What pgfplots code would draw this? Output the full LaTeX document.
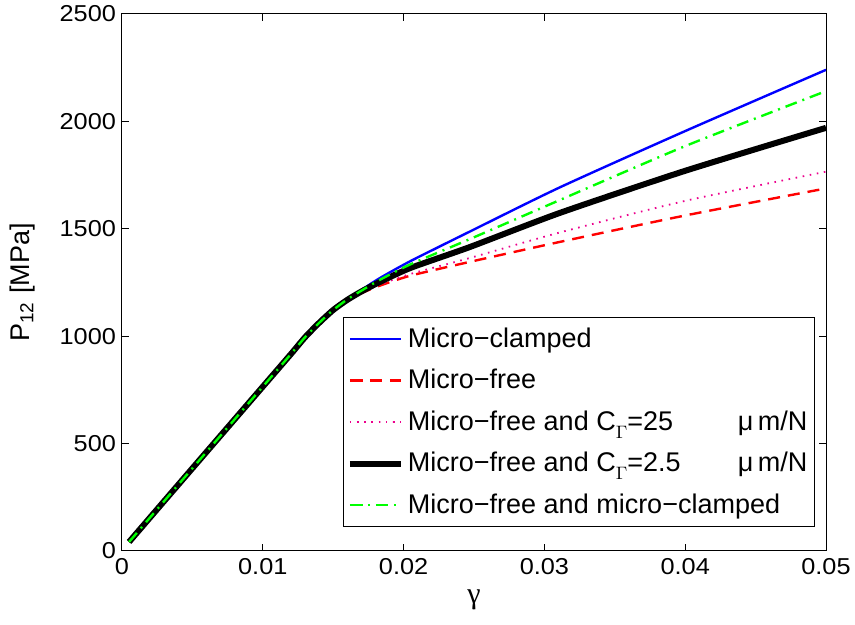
\documentclass[border=0pt]{standalone}
\usepackage{pgfplots}
\pgfplotsset{compat=1.18}
\usepackage{fontspec}
\setmainfont{Liberation Sans}
\newfontfamily\tickfont{Liberation Sans}[FakeStretch=1.1]
\newfontfamily\symfont{Liberation Serif}
\newcommand{\CG}{C\lower4pt\hbox{$\scriptstyle\Gamma$}}
\begin{document}
\begin{tikzpicture}
\begin{axis}[
  scale only axis, width=352pt, height=268.5pt,
  at={(0,0)}, anchor=south west,
  xmin=0, xmax=0.05, ymin=0, ymax=2500,
  xtick={0,0.01,0.02,0.03,0.04,0.05},
  xticklabels={0,0.01,0.02,0.03,0.04,0.05},
  scaled x ticks=false,
  ytick={0,500,1000,1500,2000,2500},
  /pgf/number format/1000 sep={},
  tick align=inside, major tick length=3.5pt,
  /pgf/number format/assume math mode=true,
  ticklabel style={font=\tickfont\fontsize{11.5}{13}\selectfont},
  yticklabel style={xshift=0.5pt},
  axis line style={line width=0.5pt},
  every tick/.style={black, line width=0.5pt},
  xlabel={\symfont γ},
  xlabel style={at={(axis description cs:0.5,-0.091)}, anchor=center, font=\fontsize{15}{17}\selectfont},
  ylabel={P\textsubscript{12} [MPa]},
  ylabel style={at={(axis description cs:-0.142,0.5)}, anchor=center, font=\fontsize{13.5}{15}\selectfont},
  legend style={at={(axis cs:0.04922,112)}, anchor=south east, draw=black, line width=0.5pt,
    font=\fontsize{13.5}{15}\selectfont, row sep=5.5pt, inner xsep=1.5pt, inner ysep=3pt,
    cells={anchor=west}},
  legend image code/.code={\draw[#1] plot coordinates {(0cm,0cm) (0.9cm,0cm)};},
]
\addplot[blue, line width=1.2pt, smooth, tension=0.4] coordinates {
(0.0005,42) (0.005,385) (0.01,765) (0.012,917) (0.013,995) (0.014,1062) (0.015,1122) (0.016,1172)
(0.017,1215) (0.0183,1270) (0.0205,1350) (0.0247,1487) (0.0311,1693) (0.04,1955) (0.05,2240)};
\addlegendentry{Micro−clamped}
\addplot[red, line width=1.2pt, dash pattern=on 6pt off 4pt, smooth, tension=0.4] coordinates {
(0.0005,42) (0.005,385) (0.01,765) (0.012,917) (0.013,995) (0.014,1062) (0.015,1122) (0.016,1165)
(0.017,1200) (0.0183,1235) (0.0205,1282) (0.0247,1346) (0.0311,1439) (0.04,1562) (0.05,1688)};
\addlegendentry{Micro−free}
\addplot[magenta, line width=0.9pt, dash pattern=on 0.8pt off 2.8pt, smooth, tension=0.4] coordinates {
(0.0005,42) (0.005,385) (0.01,765) (0.012,917) (0.013,995) (0.014,1062) (0.015,1122) (0.016,1167)
(0.017,1203) (0.0183,1240) (0.0205,1290) (0.0247,1364) (0.0311,1483) (0.04,1630) (0.05,1766)};
\addlegendentry{\makebox[165pt][l]{Micro−free and \CG=25}μ\,m/N}
\addplot[black, line width=3pt, smooth, tension=0.4] coordinates {
(0.0005,42) (0.005,385) (0.01,765) (0.012,917) (0.013,995) (0.014,1062) (0.015,1122) (0.016,1169)
(0.017,1208) (0.0183,1252) (0.0205,1318) (0.0247,1415) (0.0311,1574) (0.04,1770) (0.05,1970)};
\addlegendentry{\makebox[165pt][l]{Micro−free and \CG=2.5}μ\,m/N}
\addplot[green, line width=1.2pt, dash pattern=on 6pt off 3pt on 1pt off 3pt, smooth, tension=0.4] coordinates {
(0.0005,42) (0.005,385) (0.01,765) (0.012,917) (0.013,995) (0.014,1062) (0.015,1122) (0.016,1171)
(0.017,1212) (0.0183,1262) (0.0205,1335) (0.0247,1452) (0.0311,1634) (0.04,1885) (0.05,2141)};
\addlegendentry{Micro−free and micro−clamped}
\end{axis}
\pgfresetboundingbox
\path (-61pt,-37pt) rectangle (366.5pt,275.5pt);
\end{tikzpicture}
\end{document}
